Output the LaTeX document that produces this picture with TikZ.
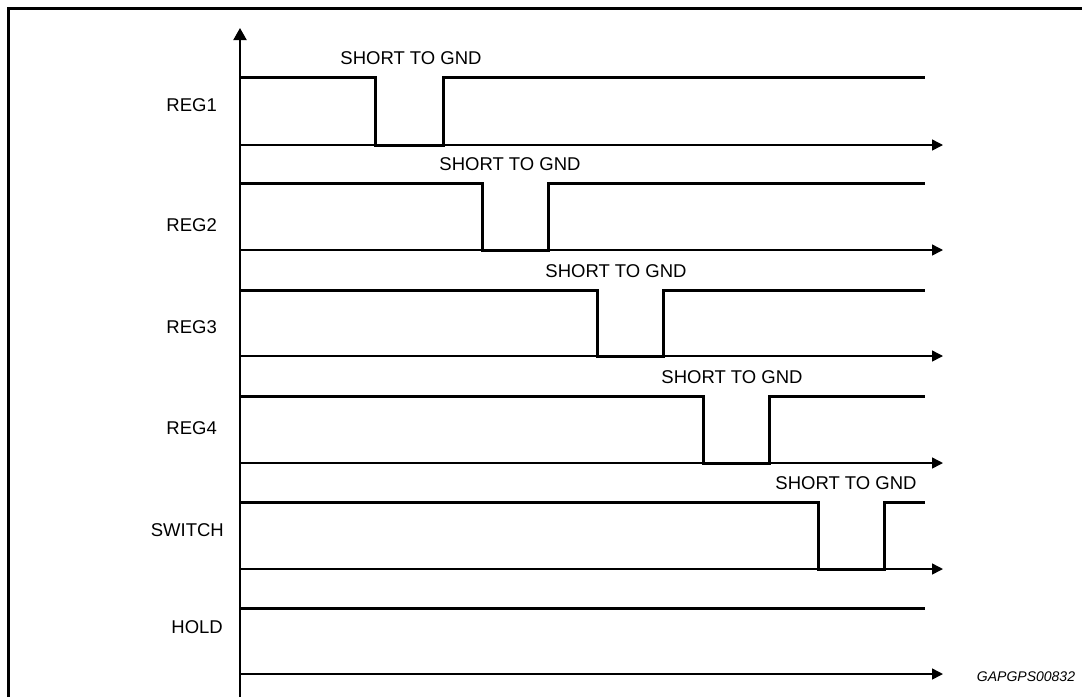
\documentclass[tikz,border=0pt]{standalone}
\usepackage{fontspec}
\setmainfont{Liberation Sans}
\usetikzlibrary{arrows.meta}
\begin{document}
\begin{tikzpicture}[x=1pt,y=-1pt,
  sig/.style={line width=3pt, line join=miter},
  axis/.style={line width=1.5pt,-{Triangle[length=11pt,width=11pt]}},
  yaxis/.style={line width=2pt,-{Triangle[length=12pt,width=13pt]}},
  lbl/.style={inner sep=0pt, font=\fontsize{18.5}{20}\selectfont},
  idlbl/.style={inner sep=0pt, font=\fontsize{14}{16}\selectfont\itshape},
  frame/.style={line width=3pt}]
\useasboundingbox (0,0) rectangle (1082,697);
% frame
\draw[frame] (8,697) -- (8,8) -- (1082,8);
% vertical axis
\coordinate (ybot) at (240,697);
\coordinate (ytop) at (240,28);
\draw[yaxis] (ybot) -- (ytop);
% rows
\foreach \i/\hi/\lo/\fa/\ri/\name/\lx/\ly/\sx in {
  1/77/145/375/443/REG1/217/105/411,
  2/183/250/482/548/REG2/217/225/510,
  3/290/356/597/663/REG3/217/327/616,
  4/396/463/703/769/REG4/217/428/732,
  5/502/569/818/884/SWITCH/224/530/846}{
  \coordinate (b\i) at (240,\lo);
  \coordinate (e\i) at (943,\lo);
  \draw[axis] (b\i) -- (e\i);
  \coordinate (s\i) at (240,\hi);
  \coordinate (f\i) at (\fa,\hi);
  \coordinate (fl\i) at (\fa,\lo);
  \coordinate (rl\i) at (\ri,\lo);
  \coordinate (r\i) at (\ri,\hi);
  \coordinate (t\i) at (925,\hi);
  \draw[sig] (s\i) -- (f\i) -- (fl\i) -- (rl\i) -- (r\i) -- (t\i);
  \node[lbl, anchor=east] (lab\i) at (\lx,\ly) {\name};
  \node[lbl] (short\i) at (\sx,\hi-19) {SHORT TO GND};
}
% HOLD
\coordinate (b6) at (240,674);
\coordinate (e6) at (943,674);
\draw[axis] (b6) -- (e6);
\coordinate (s6) at (240,608);
\coordinate (t6) at (925,608);
\draw[sig] (s6) -- (t6);
\node[lbl, anchor=east] (lab6) at (223,627) {HOLD};
\node[idlbl] (figid) at (1026,677) {GAPGPS00832};
\end{tikzpicture}
\end{document}
